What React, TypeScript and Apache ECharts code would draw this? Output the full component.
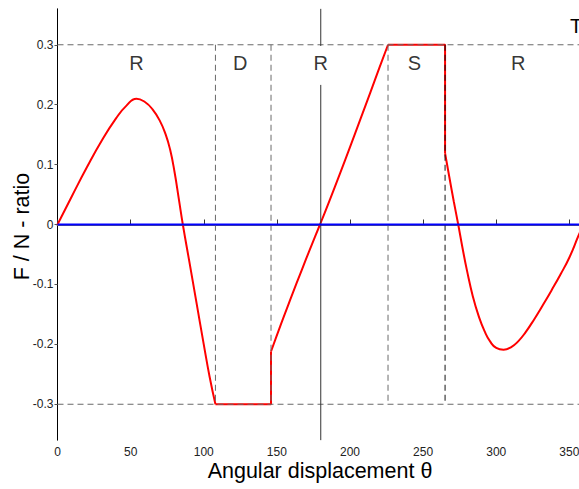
import React, { useEffect, useRef } from "react";
import * as echarts from "echarts";

// Tick positions
const thetaTicks = [0, 50, 100, 150, 200, 250, 300, 350];
const ratioTicks = [-0.3, -0.2, -0.1, 0, 0.1, 0.2, 0.3];

// F/N ratio over one revolution, piece by piece: [theta, ratio]
const riseR1 = [
  [0, 0], [10, 0.048], [20, 0.095], [30, 0.139], [40, 0.177], [47, 0.198],
  [54, 0.21], [60, 0.204], [65, 0.192], [70, 0.173], [74, 0.15], [77, 0.125],
  [80, 0.088], [83, 0.042], [85.7, 0], [90, -0.06], [95, -0.13], [100, -0.2],
  [104, -0.254], [108, -0.3],
];
const dwellLow = [[108, -0.3], [146, -0.3], [146, -0.212]];
const riseR2 = [
  [146, -0.212], [153, -0.165], [160, -0.12], [167, -0.076], [173, -0.039],
  [179.5, 0], [186, 0.04], [193, 0.084], [200, 0.129], [207, 0.175],
  [214, 0.221], [220, 0.261], [226, 0.3],
];
const dwellHigh = [[226, 0.3], [265, 0.3], [265, 0.119]];
const returnR3 = [
  [265, 0.119], [268, 0.078], [271, 0.038], [274, 0], [277, -0.04],
  [280, -0.077], [284, -0.12], [288, -0.153], [292, -0.178], [296, -0.196],
  [300, -0.206], [305, -0.209], [310, -0.205], [315, -0.195], [320, -0.18],
  [326, -0.158], [332, -0.134], [338, -0.109], [344, -0.083], [350, -0.055],
  [356, -0.02], [360, 0.003],
];

// Phase boundaries and labels
const limitLevels = [0.3, -0.3];
const phaseBoundaries = [108, 146, 226, 265];
const boundaryColors = ["#6a6a6a", "#6a6a6a", "#6a6a6a", "#111111"];
const regionNames = ["R", "D", "R", "S", "R"];
const regionCenters = [54, 125, 180, 244, 315];
const regionLabelLevel = 0.27;

const FONT = "'Liberation Sans', Arial, sans-serif";

export default function App() {
  const ref = useRef<HTMLDivElement>(null);

  useEffect(() => {
    document.body.style.margin = "0";
    const chart = echarts.init(ref.current!, null, { renderer: "svg" });

    const redLine = (data: number[][], smooth: boolean) => ({
      type: "line",
      data,
      smooth: smooth ? 0.5 : false,
      symbol: "none",
      silent: true,
      z: 2,
      lineStyle: { color: "#ff0000", width: 2 },
    });

    const guide = (data: number[][], color: string, dashed: boolean, z = 3) => ({
      type: "line",
      data,
      symbol: "none",
      silent: true,
      z,
      lineStyle: { color, width: 1, type: dashed ? [6, 4] : "solid" },
    });

    const series: any[] = [
      redLine(riseR1, true),
      redLine(dwellLow, false),
      redLine(riseR2, true),
      redLine(dwellHigh, false),
      redLine(returnR3, true),
      ...limitLevels.map((v) => guide([[0, v], [360, v]], "#6a6a6a", true)),
      ...phaseBoundaries.map((b, i) =>
        guide([[b, 0.3], [b, -0.3]], boundaryColors[i], true)
      ),
      guide([[180, 0.36], [180, 0.298]], "#333333", false),
      guide([[180, 0.233], [180, -0.36]], "#333333", false),
      {
        type: "line",
        data: [[0, 0], [360, 0]],
        symbol: "none",
        silent: true,
        z: 4,
        lineStyle: { color: "#0000ff", width: 2 },
      },
      {
        type: "scatter",
        symbolSize: 0,
        silent: true,
        z: 5,
        data: regionNames.map((n, i) => ({ value: [regionCenters[i], regionLabelLevel], name: n })),
        label: {
          show: true,
          position: "inside",
          formatter: (p: any) => p.name,
          fontFamily: FONT,
          fontSize: 20,
          color: "#000",
        },
      },
    ];

    chart.setOption({
      animation: false,
      grid: { left: 57.5, top: 8.8, right: 16, bottom: 48.8, containLabel: false },
      xAxis: {
        type: "value",
        min: 0,
        max: 360,
        splitLine: { show: false },
        axisLine: { show: true, lineStyle: { color: "#666", width: 2 } },
        axisTick: { show: true, inside: true, length: 5, lineStyle: { color: "#333" }, customValues: thetaTicks },
        axisLabel: {
          customValues: thetaTicks,
          fontFamily: FONT,
          fontSize: 12,
          color: "#222",
          margin: 6,
        },
      },
      yAxis: {
        type: "value",
        min: -0.36,
        max: 0.36,
        splitLine: { show: false },
        axisLine: { show: true, onZero: false, lineStyle: { color: "#000", width: 1 } },
        axisTick: { show: true, inside: false, length: 3, lineStyle: { color: "#555" }, customValues: ratioTicks },
        axisLabel: {
          customValues: ratioTicks,
          formatter: (v: number) => (Math.abs(v) < 1e-9 ? "0" : String(+v.toFixed(1))),
          fontFamily: FONT,
          fontSize: 12,
          color: "#222",
          margin: 4,
        },
      },
      graphic: [
        {
          type: "text",
          x: 320,
          y: 471,
          style: {
            text: "Angular displacement θ",
            fontFamily: FONT,
            fontSize: 21.5,
            fill: "#000",
            align: "center",
            verticalAlign: "middle",
          },
        },
        {
          type: "text",
          x: 22,
          y: 226.5,
          rotation: Math.PI / 2,
          style: {
            text: "F / N - ratio",
            fontFamily: FONT,
            fontSize: 21.5,
            fill: "#000",
            align: "center",
            verticalAlign: "middle",
          },
        },
        {
          type: "text",
          x: 570,
          y: 16,
          style: {
            text: "T",
            fontFamily: FONT,
            fontSize: 20,
            fill: "#000",
            align: "left",
            verticalAlign: "top",
          },
        },
      ],
      series,
    });

    return () => chart.dispose();
  }, []);

  return (
    <div style={{ width: 579, height: 489, overflow: "hidden", position: "relative" }}>
      <div ref={ref} style={{ width: 600, height: 489 }} />
    </div>
  );
}
